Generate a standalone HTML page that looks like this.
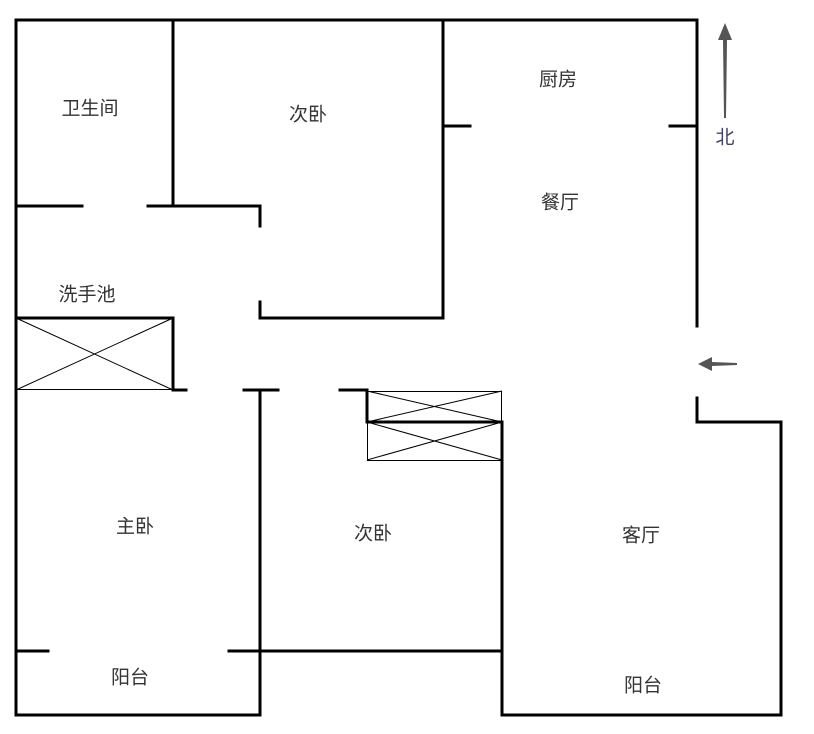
<!DOCTYPE html>
<html><head><meta charset="utf-8"><style>
html,body{margin:0;padding:0;background:#fff;}
svg{display:block}
text{font-family:"Liberation Sans","Noto Sans CJK SC",sans-serif;font-size:19px;fill:#333;text-anchor:middle;dominant-baseline:central}
</style></head><body>
<svg width="814" height="734" viewBox="0 0 814 734" xmlns="http://www.w3.org/2000/svg">
<g stroke="#000" stroke-width="3" fill="none" stroke-linecap="square">
<polyline points="697,326 697,20 16,20 16,715 260,715 260,390"/>
<polyline points="697,398 697,422 781,422 781,715 502,715 502,422 367,422 367,390 340,390"/>
<line x1="260" y1="651" x2="502" y2="651"/>
<line x1="173" y1="20" x2="173" y2="206"/>
<line x1="16" y1="206" x2="82" y2="206"/>
<polyline points="148,206 260,206 260,226"/>
<line x1="443" y1="20" x2="443" y2="318"/>
<polyline points="260,302 260,318 443,318"/>
<line x1="443" y1="126" x2="470" y2="126"/>
<line x1="670" y1="126" x2="697" y2="126"/>
<polyline points="16,318 173,318 173,390 186,390"/>
<line x1="244" y1="390" x2="278" y2="390"/>
<line x1="16" y1="651" x2="48" y2="651"/>
<line x1="229" y1="651" x2="260" y2="651"/>
</g>
<g stroke="#000" stroke-width="1" fill="none">
<rect x="16.5" y="318.5" width="156" height="71"/>
<line x1="16" y1="318" x2="173" y2="390"/><line x1="16" y1="390" x2="173" y2="318"/>
<rect x="367.5" y="391.5" width="134" height="31"/>
<line x1="367" y1="391" x2="502" y2="422"/><line x1="367" y1="422" x2="502" y2="391"/>
<rect x="367.5" y="422.5" width="134" height="38"/>
<line x1="367" y1="422" x2="502" y2="460"/><line x1="367" y1="460" x2="502" y2="422"/>
</g>
<polygon points="725,23 732,40 727,40 726,118 724,118 723,40 718,40" fill="#555"/>
<polygon points="698,364 712,357 712,362 737,363 737,365 712,366 712,371" fill="#555"/>
<text x="90" y="109">卫生间</text>
<text x="308" y="115">次卧</text>
<text x="558" y="80">厨房</text>
<text x="560" y="203">餐厅</text>
<text x="87" y="295">洗手池</text>
<text x="135" y="527">主卧</text>
<text x="373" y="534">次卧</text>
<text x="641" y="536">客厅</text>
<text x="130" y="678">阳台</text>
<text x="643" y="686">阳台</text>
<text x="725" y="138" style="fill:#446">北</text>
</svg>
</body></html>
